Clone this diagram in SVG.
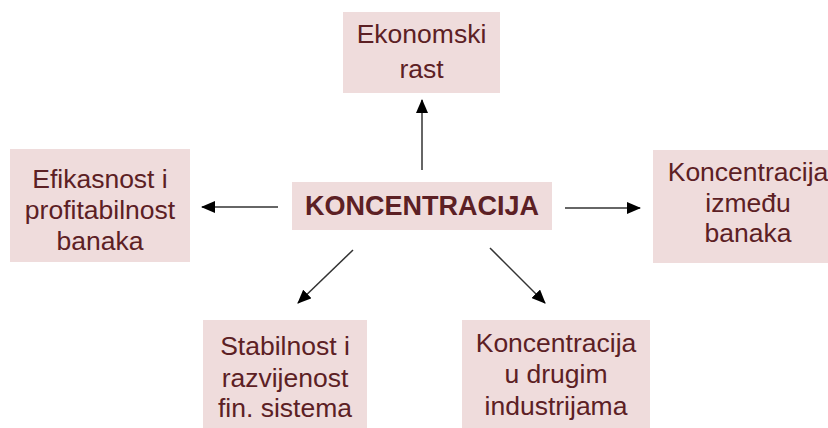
<svg xmlns="http://www.w3.org/2000/svg" width="828" height="428" viewBox="0 0 828 428">
<defs>
<marker id="ah" markerWidth="14" markerHeight="12" refX="13" refY="6" orient="auto" markerUnits="userSpaceOnUse" viewBox="0 0 14 12">
<path d="M0,0 L14,6 L0,12 z" fill="#000"/>
</marker>
<style>
.box{fill:#efdcdc}
.t{font-family:"Liberation Sans",Arial,sans-serif;font-size:26.5px;fill:#5c2024;text-anchor:middle}
.b{font-weight:bold;font-size:27px}
.c{stroke:#333;stroke-width:1.5;fill:none;marker-end:url(#ah)}
</style>
</defs>
<rect width="828" height="428" fill="#fff"/>
<g id="center">
<rect class="box" x="292" y="182" width="260" height="48"/>
<text class="t b" x="422" y="215">KONCENTRACIJA</text>
</g>
<g id="top">
<rect class="box" x="343" y="12" width="157" height="81"/>
<text class="t" x="421.5" y="43">Ekonomski</text>
<text class="t" x="421.5" y="78">rast</text>
</g>
<g id="left">
<rect class="box" x="10" y="149" width="180" height="113"/>
<text class="t" x="100" y="188">Efikasnost i</text>
<text class="t" x="100" y="219">profitabilnost</text>
<text class="t" x="100" y="250">banaka</text>
</g>
<g id="right">
<rect class="box" x="653" y="150" width="175" height="113"/>
<text class="t" x="748" y="181">Koncentracija</text>
<text class="t" x="748" y="212">između</text>
<text class="t" x="748" y="242">banaka</text>
</g>
<g id="bottomleft">
<rect class="box" x="203" y="320" width="164" height="108"/>
<text class="t" x="285" y="355">Stabilnost i</text>
<text class="t" x="285" y="387">razvijenost</text>
<text class="t" x="285" y="417">fin. sistema</text>
</g>
<g id="bottomright">
<rect class="box" x="462" y="320" width="188" height="108"/>
<text class="t" x="556" y="352">Koncentracija</text>
<text class="t" x="556" y="383">u drugim</text>
<text class="t" x="556" y="415">industrijama</text>
</g>
<g id="connectors">
<line class="c" x1="422" y1="170" x2="422" y2="100"/>
<line class="c" x1="278" y1="207" x2="202" y2="207"/>
<line class="c" x1="565" y1="208" x2="640" y2="208"/>
<line class="c" x1="353" y1="250" x2="298" y2="303"/>
<line class="c" x1="490" y1="248" x2="545" y2="303"/>
</g>
</svg>
